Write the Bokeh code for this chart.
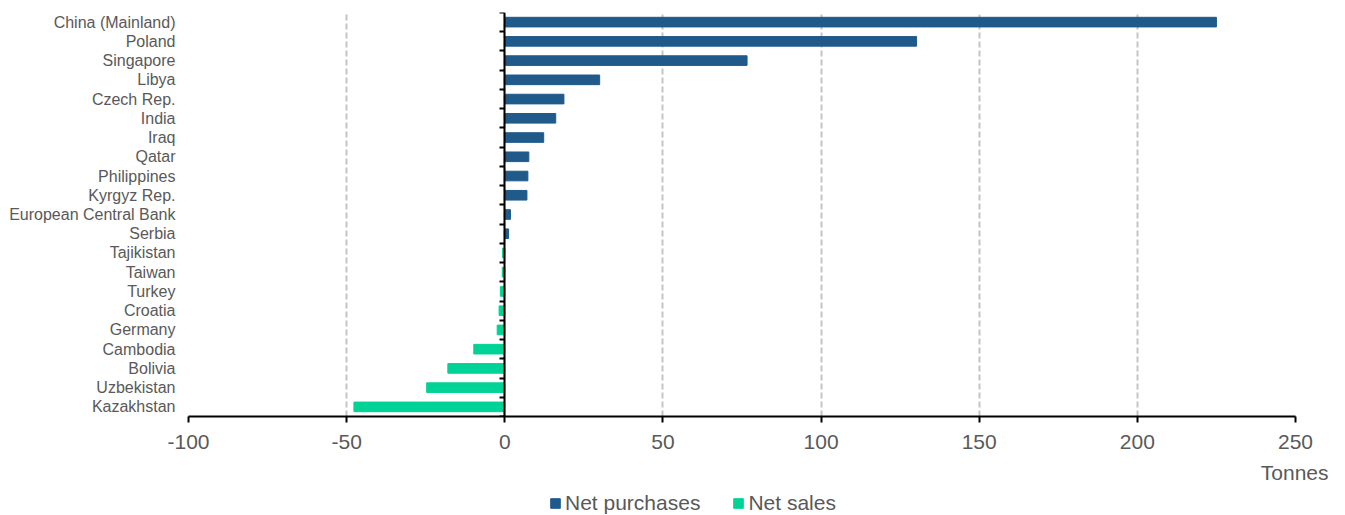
from bokeh.plotting import figure
from bokeh.layouts import column
from bokeh.models import (Range1d, FixedTicker, LinearAxis, Legend,
                          LegendItem, Title, ColumnDataSource)
from bokeh.embed import file_html
from bokeh.resources import INLINE

countries = ["China (Mainland)", "Poland", "Singapore", "Libya", "Czech Rep.", "India",
             "Iraq", "Qatar", "Philippines", "Kyrgyz Rep.", "European Central Bank",
             "Serbia", "Tajikistan", "Taiwan", "Turkey", "Croatia", "Germany",
             "Cambodia", "Bolivia", "Uzbekistan", "Kazakhstan"]
tonnes = [225.0, 130.2, 76.6, 30.0, 18.7, 16.1, 12.3, 7.6, 7.3, 7.0, 1.8,
          1.2, -0.7, -0.8, -1.4, -1.8, -2.4, -9.8, -18.0, -24.7, -47.7]
x_ticks = [-100, -50, 0, 50, 100, 150, 200, 250]
x_tick_labels = ["-100", "-50", "0", "50", "100", "150", "200", "250"]
unit_label = "Tonnes"
series_names = ["Net purchases", "Net sales"]

BLUE = "#1F5A8A"
GREEN = "#00D395"
GREY = "#595959"
FONT = "Liberation Sans"

n = len(countries)
rows = [n - i for i in range(n)]          # China at top (n) ... Kazakhstan at 1
pos_src = ColumnDataSource(dict(y=[r for r, v in zip(rows, tonnes) if v > 0],
                                v=[v for v in tonnes if v > 0]))
neg_src = ColumnDataSource(dict(y=[r for r, v in zip(rows, tonnes) if v <= 0],
                                v=[v for v in tonnes if v <= 0]))

p = figure(width=1345, height=492, output_backend="svg", toolbar_location=None,
           x_range=Range1d(-100, 250), y_range=Range1d(0.5, n + 0.5),
           min_border_left=188, min_border_right=50, min_border_top=12, min_border_bottom=76)
p.outline_line_color = None

r1 = p.hbar(y="y", right="v", left=0, height=0.5, source=pos_src, color=BLUE)
r2 = p.hbar(y="y", right="v", left=0, height=0.5, source=neg_src, color=GREEN)

# category labels axis
ya = p.yaxis[0]
ya.ticker = FixedTicker(ticks=rows)
ya.major_label_overrides = {r: c for r, c in zip(rows, countries)}
ya.axis_line_color = None
ya.major_tick_line_color = None
ya.minor_tick_line_color = None
ya.major_label_standoff = 7
ya.major_label_text_font = FONT
ya.major_label_text_font_size = "16px"
ya.major_label_text_color = GREY

# zero line axis with ticks between categories
zticks = [r + 0.5 for r in range(n + 1)]
zax = LinearAxis(fixed_location=0, ticker=FixedTicker(ticks=zticks))
zax.major_label_overrides = {t: "" for t in zticks}
zax.major_label_standoff = 0
zax.axis_line_color = "black"
zax.axis_line_width = 2
zax.major_tick_line_color = "black"
zax.major_tick_line_width = 2
zax.major_tick_in = 5
zax.major_tick_out = 0
zax.minor_tick_line_color = None
p.add_layout(zax, "right")

xa = p.xaxis[0]
xa.ticker = FixedTicker(ticks=x_ticks)
xa.major_label_overrides = dict(zip(x_ticks, x_tick_labels))
xa.axis_line_color = "black"
xa.axis_line_width = 2
xa.major_tick_line_color = "black"
xa.major_tick_line_width = 2
xa.major_tick_out = 6
xa.major_tick_in = 0
xa.minor_tick_line_color = None
xa.major_label_standoff = 12
xa.major_label_text_font = FONT
xa.major_label_text_font_size = "21px"
xa.major_label_text_color = GREY

p.xgrid.ticker = FixedTicker(ticks=x_ticks)
p.xgrid.grid_line_color = "#C4C4C4"
p.xgrid.grid_line_width = 2
p.xgrid.grid_line_dash = "6 3"
p.ygrid.grid_line_color = None

p.add_layout(Title(text=unit_label, align="right", offset=-33, standoff=15,
                   text_font=FONT, text_font_size="21px", text_font_style="normal",
                   text_color=GREY), "below")

# legend strip (frames are aligned with the main plot by the column layout)
lg = figure(width=1345, height=23, output_backend="svg", toolbar_location=None,
            x_range=Range1d(-100, 250), y_range=Range1d(0.5, n + 0.5),
            min_border_left=0, min_border_right=0, min_border_top=0, min_border_bottom=0)
lg.axis.visible = False
lg.grid.visible = False
lg.outline_line_color = None
l1 = lg.hbar(y="y", right="v", left=0, height=0.5, source=pos_src, color=BLUE, visible=False)
l2 = lg.hbar(y="y", right="v", left=0, height=0.5, source=neg_src, color=GREEN, visible=False)
legend = Legend(items=[LegendItem(label=series_names[0], renderers=[l1]),
                       LegendItem(label=series_names[1], renderers=[l2])],
                orientation="horizontal", location=(361, 0), margin=0, padding=0,
                spacing=32, label_standoff=4, glyph_width=12, glyph_height=12,
                label_text_font=FONT, label_text_font_size="21px", label_text_color=GREY,
                inactive_fill_alpha=0, border_line_color=None, background_fill_alpha=0)
lg.add_layout(legend, "center")

open("out.html", "w").write(file_html(column(p, lg, spacing=0), INLINE))
